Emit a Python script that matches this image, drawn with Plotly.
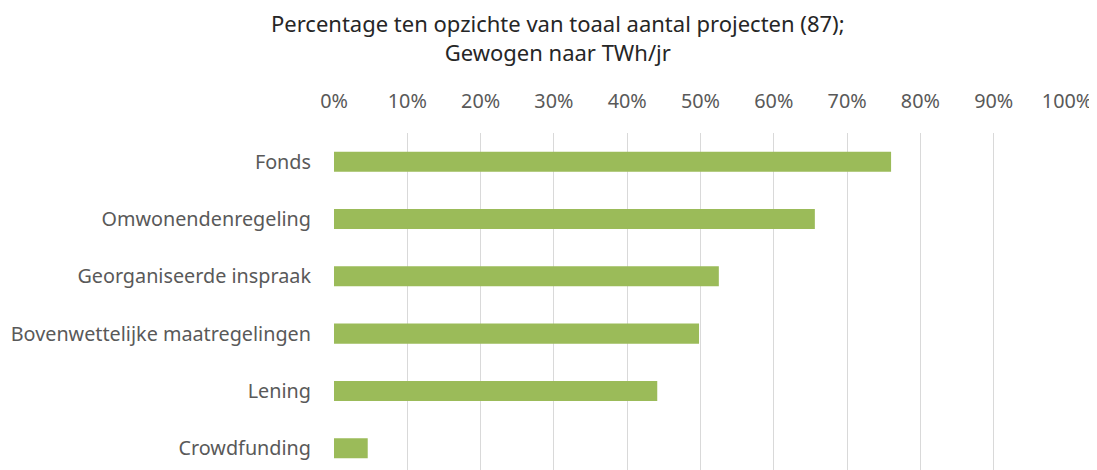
import plotly.graph_objects as go

categories = ["Fonds", "Omwonendenregeling", "Georganiseerde inspraak",
              "Bovenwettelijke maatregelingen", "Lening", "Crowdfunding"]
values = [76.0, 65.6, 52.5, 49.8, 44.1, 4.6]
tick_vals = [0, 10, 20, 30, 40, 50, 60, 70, 80, 90, 100]
tick_text = [f"{v}%" for v in tick_vals]
title_text = "Percentage ten opzichte van toaal aantal projecten (87);<br>Gewogen naar TWh/jr"

fig = go.Figure(go.Bar(
    x=values, y=categories, orientation="h",
    marker=dict(color="#9BBB59", line=dict(width=0)),
    width=0.35,
))

# The page body has an 8px margin, so the figure is sized to fill the rest.
fig.update_layout(
    width=1089, height=462,
    paper_bgcolor="white", plot_bgcolor="white",
    margin=dict(l=326, r=30, t=125, b=0, autoexpand=False),
    font=dict(family="Noto Sans", size=19.8, color="#595959"),
    showlegend=False,
    annotations=[dict(
        text=title_text, xref="paper", yref="paper",
        x=(558 - 334) / 733, y=(470 - 37.5) / 337,
        xanchor="center", yanchor="middle", showarrow=False,
        font=dict(family="Noto Sans", size=22, color="#262626"),
    )],
)

fig.update_xaxes(
    side="top", range=[0, 100], tickvals=tick_vals, ticktext=tick_text,
    showgrid=True, gridcolor="#d9d9d9", gridwidth=1,
    zeroline=False, showline=False, ticks="", ticklabelstandoff=20,
    tickfont=dict(size=19.8, color="#595959"),
)
fig.update_yaxes(
    type="category", categoryorder="array", categoryarray=categories,
    range=[5.38, -0.5], showgrid=False, zeroline=False, showline=False,
    ticks="", ticklabelstandoff=22,
    tickfont=dict(size=19.8, color="#595959"),
)

fig.write_html("out.html")
